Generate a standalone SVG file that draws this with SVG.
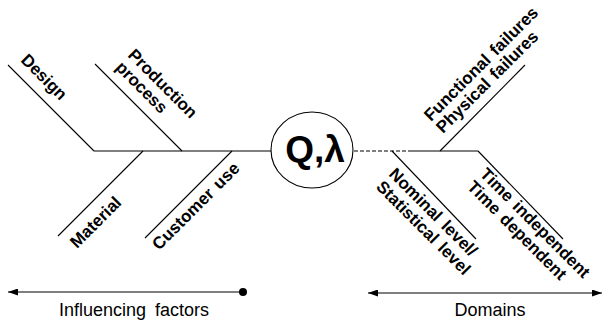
<svg xmlns="http://www.w3.org/2000/svg" width="603" height="320" viewBox="0 0 603 320">
<defs>
<style>
.ln{stroke:#000;stroke-width:1.1;fill:none}
.dash{stroke:#000;stroke-width:1.1;fill:none;stroke-dasharray:4 2}
.lbl{font-family:"Liberation Sans",Arial,Helvetica,sans-serif;font-size:17px;font-weight:bold;fill:#000;word-spacing:2px}
.cap{font-family:"Liberation Sans",Arial,Helvetica,sans-serif;font-size:18px;fill:#000;word-spacing:4px}
.big{font-family:"Liberation Sans",Arial,Helvetica,sans-serif;font-size:37px;font-weight:bold;fill:#000}
</style>
<marker id="ah" viewBox="0 0 10 7" refX="10" refY="3.5" markerWidth="10" markerHeight="7" markerUnits="userSpaceOnUse" orient="auto-start-reverse">
<path d="M0,0 L10,3.5 L0,7 z" fill="#000"/>
</marker>
</defs>
<rect width="603" height="320" fill="#fff"/>
<g id="connectors">
<line class="ln" x1="94" y1="151" x2="271" y2="151"/>
<line class="dash" x1="354" y1="151" x2="410" y2="151"/>
<line class="ln" x1="410" y1="151" x2="478" y2="151"/>
<line class="ln" x1="8" y1="65" x2="94" y2="151"/>
<line class="ln" x1="95" y1="64" x2="182" y2="151"/>
<line class="ln" x1="58" y1="236" x2="143" y2="151"/>
<line class="ln" x1="145" y1="238" x2="232" y2="151"/>
<line class="ln" x1="392" y1="151" x2="476" y2="239"/>
<line class="ln" x1="440" y1="151" x2="525" y2="65"/>
<line class="ln" x1="478" y1="151" x2="563" y2="239"/>
<line class="ln" x1="8" y1="292" x2="243" y2="292" marker-start="url(#ah)"/>
<circle cx="243" cy="292" r="4" fill="#000"/>
<line class="ln" x1="368" y1="293" x2="602" y2="293" marker-start="url(#ah)" marker-end="url(#ah)"/>
</g>
<g id="center">
<ellipse cx="312" cy="150" rx="41" ry="38" fill="#fff" stroke="#000" stroke-width="1.1"/>
<text class="big" x="315" y="162" text-anchor="middle">Q,λ</text>
</g>
<g id="design"><text class="lbl" transform="translate(20,61) rotate(45)">Design</text></g>
<g id="production"><text class="lbl" transform="translate(127,56) rotate(45)"><tspan x="0" y="0">Production</tspan><tspan x="0" y="17.5">process</tspan></text></g>
<g id="material"><text class="lbl" transform="translate(77,249) rotate(-45)">Material</text></g>
<g id="customer"><text class="lbl" transform="translate(159,251) rotate(-45)">Customer use</text></g>
<g id="failures"><text class="lbl" transform="translate(431,122) rotate(-45)"><tspan x="0" y="0">Functional failures</tspan><tspan x="0" y="17">Physical failures</tspan></text></g>
<g id="level"><text class="lbl" transform="translate(388,175) rotate(45)"><tspan x="0" y="0">Nominal level/</tspan><tspan x="0" y="18">Statistical level</tspan></text></g>
<g id="time"><text class="lbl" transform="translate(479,175) rotate(45)"><tspan x="0" y="0">Time independent</tspan><tspan x="0" y="18">Time dependent</tspan></text></g>
<g id="influencing"><text class="cap" x="134" y="316" text-anchor="middle">Influencing factors</text></g>
<g id="domains"><text class="cap" x="490" y="316" text-anchor="middle">Domains</text></g>
</svg>
